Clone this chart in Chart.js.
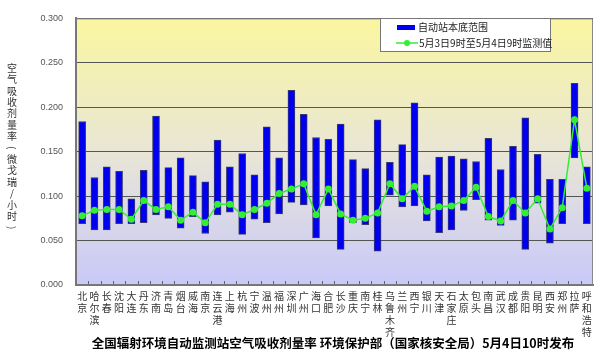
<!DOCTYPE html>
<html>
<head>
<meta charset="utf-8">
<script src="https://cdn.jsdelivr.net/npm/chart.js@4/dist/chart.umd.min.js"></script>
<style>
  body { margin: 0; background: #fff; }
  #wrap { width: 600px; height: 353px; }
</style>
</head>
<body>
<div id="wrap"><canvas id="grafica" width="600" height="353"></canvas></div>
<script>
// 城市
const ciudades = ['北京','哈尔滨','长春','沈阳','大连','丹东','济南','青岛','烟台','威海','南京','连云港','上海','杭州','宁波','温州','福州','深圳','广州','海口','合肥','长沙','重庆','南宁','桂林','乌鲁木齐','兰州','西宁','银川','天津','石家庄','太原','包头','南昌','武汉','成都','贵阳','昆明','西安','郑州','拉萨','呼和浩特'];
// 本底范围 (下限 / 上限)
const minimos = [0.069,0.062,0.062,0.069,0.069,0.070,0.079,0.075,0.064,0.077,0.058,0.079,0.082,0.057,0.074,0.070,0.080,0.093,0.090,0.053,0.089,0.040,0.070,0.068,0.038,0.101,0.088,0.089,0.072,0.059,0.062,0.084,0.096,0.073,0.067,0.073,0.040,0.092,0.047,0.069,0.143,0.069];
const maximos = [0.184,0.121,0.133,0.128,0.097,0.129,0.190,0.132,0.143,0.123,0.116,0.163,0.133,0.148,0.124,0.178,0.143,0.219,0.192,0.166,0.164,0.181,0.141,0.131,0.186,0.138,0.158,0.205,0.124,0.144,0.145,0.142,0.139,0.165,0.130,0.156,0.188,0.147,0.119,0.119,0.227,0.133];
// 监测值
const medidos = [0.078,0.084,0.085,0.085,0.074,0.095,0.085,0.088,0.073,0.082,0.070,0.091,0.091,0.079,0.085,0.092,0.103,0.108,0.114,0.079,0.108,0.080,0.073,0.075,0.081,0.114,0.097,0.111,0.083,0.088,0.089,0.095,0.110,0.077,0.072,0.095,0.081,0.097,0.063,0.087,0.186,0.109];
const ticksY = [0, 0.05, 0.10, 0.15, 0.20, 0.25, 0.30];

const nombreRango = '自动站本底范围';
const nombreMedido = '5月3日9时至5月4日9时监测值';
const tituloY = '空气吸收剂量率（微戈瑞/小时）';
const tituloAbajo = '全国辐射环境自动监测站空气吸收剂量率 环境保护部（国家核安全局）5月4日10时发布';

const fuente = '"Noto Sans CJK SC", sans-serif';
const azul = '#0000ee';
const verde = '#33ee33';

const rangos = minimos.map((m, i) => [m, maximos[i]]);
const etiquetas = ciudades.map(c => c.split(''));

const decorado = {
  id: 'decorado',
  beforeDraw(chart) {
    const { ctx, chartArea: a } = chart;
    const g = ctx.createLinearGradient(0, a.top, 0, a.bottom);
    g.addColorStop(0, '#faf6a0');
    g.addColorStop(0.5, '#e9e6d6');
    g.addColorStop(1, '#c9c9f9');
    ctx.save();
    ctx.fillStyle = g;
    ctx.fillRect(a.left, a.top, a.right - a.left, a.bottom - a.top);
    ctx.restore();
  },
  afterDraw(chart) {
    const { ctx, chartArea: a } = chart;
    const x = chart.scales.x;
    ctx.save();
    // borde superior y derecho
    ctx.strokeStyle = '#888';
    ctx.lineWidth = 1;
    ctx.beginPath();
    ctx.moveTo(a.left, a.top + 0.5);
    ctx.lineTo(a.right - 0.5, a.top + 0.5);
    ctx.lineTo(a.right - 0.5, a.bottom);
    ctx.stroke();
    // marcas del eje x hacia dentro
    ctx.strokeStyle = '#666';
    const paso = (a.right - a.left) / ciudades.length;
    for (let i = 1; i < ciudades.length; i++) {
      const px = Math.round(x.getPixelForValue(i) - paso / 2) + 0.5;
      ctx.beginPath();
      ctx.moveTo(px, a.bottom - 1);
      ctx.lineTo(px, a.bottom - 4);
      ctx.stroke();
    }
    // titulo eje y, caracteres apilados
    ctx.fillStyle = '#333';
    ctx.font = '10px ' + fuente;
    ctx.textAlign = 'center';
    ctx.textBaseline = 'middle';
    const chars = tituloY.split('');
    const y0 = 68;
    chars.forEach((c, i) => {
      if (c === '（' || c === '）') {
        ctx.save();
        ctx.translate(12, y0 + i * 11.4);
        ctx.rotate(Math.PI / 2);
        ctx.fillText(c === '（' ? '(' : ')', 0, 0);
        ctx.restore();
      } else {
        ctx.fillText(c, 12, y0 + i * 11.4);
      }
    });
    // titulo inferior
    ctx.fillStyle = '#000';
    ctx.font = 'bold 12.5px ' + fuente;
    ctx.fillText(tituloAbajo, 333, 343);
    // leyenda
    const lx = 380, ly = 18, lw = 171, lh = 34;
    ctx.fillStyle = '#fff';
    ctx.fillRect(lx, ly, lw, lh);
    ctx.strokeStyle = '#777';
    ctx.lineWidth = 1;
    ctx.strokeRect(lx + 0.5, ly + 0.5, lw - 1, lh - 1);
    ctx.fillStyle = azul;
    ctx.fillRect(397, 25, 18, 5);
    ctx.strokeStyle = verde;
    ctx.lineWidth = 1.5;
    ctx.beginPath();
    ctx.moveTo(396, 43);
    ctx.lineTo(418, 43);
    ctx.stroke();
    ctx.fillStyle = verde;
    ctx.beginPath();
    ctx.arc(407, 43, 3, 0, Math.PI * 2);
    ctx.fill();
    ctx.fillStyle = '#222';
    ctx.font = '10px ' + fuente;
    ctx.textAlign = 'left';
    ctx.fillText(nombreRango, 418, 27.5);
    ctx.fillText(nombreMedido, 419, 43);
    ctx.restore();
  }
};

new Chart('grafica', {
  data: {
    labels: etiquetas,
    datasets: [
      {
        type: 'line',
        label: nombreMedido,
        data: medidos,
        borderColor: verde,
        backgroundColor: verde,
        borderWidth: 1.5,
        pointRadius: 3.5,
        pointBorderWidth: 0,
        pointBackgroundColor: verde,
        tension: 0,
        order: 0
      },
      {
        type: 'bar',
        label: nombreRango,
        data: rangos,
        backgroundColor: azul,
        borderColor: '#3a3a70',
        borderWidth: 1,
        borderSkipped: false,
        barThickness: 7,
        order: 1
      }
    ]
  },
  options: {
    responsive: false,
    animation: false,
    layout: { padding: { left: 0, right: 7, top: 11, bottom: 0 } },
    plugins: {
      legend: { display: false },
      tooltip: { enabled: false }
    },
    scales: {
      x: {
        offset: true,
        grid: { display: false, drawTicks: false },
        border: { display: true, color: '#777', width: 2 },
        ticks: {
          autoSkip: false,
          maxRotation: 0,
          minRotation: 0,
          padding: 5,
          color: '#333',
          font: { family: fuente, size: 10, lineHeight: 1.2 }
        },
        afterFit: s => { s.height = 68; }
      },
      y: {
        min: 0,
        max: 0.3,
        afterBuildTicks: s => { s.ticks = ticksY.map(v => ({ value: v })); },
        grid: { color: '#555', lineWidth: 1, drawTicks: false },
        border: { display: true, color: '#777', width: 2 },
        ticks: {
          padding: 13,
          color: '#555',
          font: { family: '"Liberation Sans", sans-serif', size: 9 },
          callback: v => Number(v).toFixed(3)
        },
        afterFit: s => { s.width = 76; }
      }
    }
  },
  plugins: [decorado]
});
</script>
</body>
</html>
